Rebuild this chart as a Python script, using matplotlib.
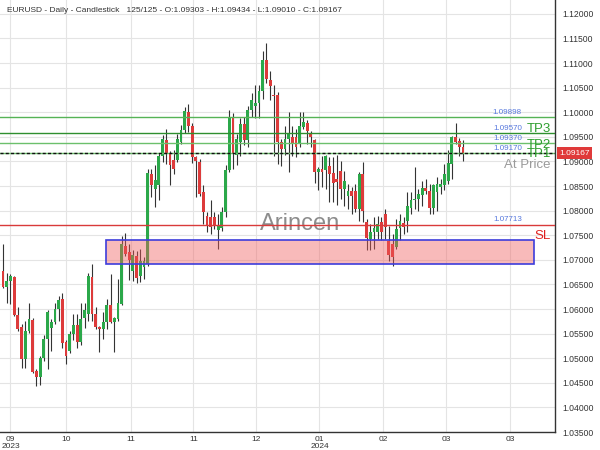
import matplotlib
matplotlib.use('Agg')
import matplotlib.pyplot as plt
from matplotlib.patches import Rectangle
import matplotlib.transforms as mtransforms

plt.rcParams['font.family'] = ['Liberation Sans', 'DejaVu Sans']

# ---------------- data ----------------
opens = [1.0677, 1.0645, 1.0656, 1.0666, 1.0587, 1.0564, 1.0499, 1.0556, 1.0578, 1.0473,
         1.0461, 1.0501, 1.0540, 1.0562, 1.0574, 1.0600, 1.0621, 1.0532, 1.0515, 1.0550,
         1.0568, 1.0532, 1.0582, 1.0590, 1.0666, 1.0590, 1.0564, 1.0560, 1.0574, 1.0609,
         1.0574, 1.0580, 1.0611, 1.0728, 1.0716, 1.0677, 1.0708, 1.0667, 1.0686, 1.0692,
         1.0874, 1.0844, 1.0852, 1.0912, 1.0943, 1.0918, 1.0902, 1.0902, 1.0939, 1.0963,
         1.1001, 1.0971, 1.0908, 1.0898, 1.0837, 1.0789, 1.0787, 1.0787, 1.0760, 1.0765,
         1.0797, 1.0882, 1.0989, 1.0914, 1.0939, 1.0977, 1.0943, 1.1005, 1.1012, 1.1018,
         1.1044, 1.1107, 1.1066, 1.1036, 1.1036, 1.0939, 1.0925, 1.0945, 1.0949, 1.0949,
         1.0935, 1.0969, 1.0979, 1.0957, 1.0943, 1.0878, 1.0884, 1.0882, 1.0890, 1.0876,
         1.0864, 1.0880, 1.0843, 1.0829, 1.0839, 1.0839, 1.0803, 1.0874, 1.0777, 1.0742,
         1.0756, 1.0756, 1.0777, 1.0793, 1.0738, 1.0732, 1.0726, 1.0765, 1.0775, 1.0779,
         1.0805, 1.0821, 1.0823, 1.0831, 1.0845, 1.0839, 1.0805, 1.0837, 1.0848, 1.0852,
         1.0860, 1.0894, 1.0949, 1.0941, 1.09303]
highs = [1.0732, 1.0674, 1.0672, 1.0668, 1.0605, 1.0570, 1.0576, 1.0613, 1.0582, 1.0479,
         1.0505, 1.0548, 1.0597, 1.0579, 1.0613, 1.0627, 1.0633, 1.0536, 1.0556, 1.0590,
         1.0590, 1.0613, 1.0613, 1.0674, 1.0692, 1.0605, 1.0566, 1.0594, 1.0621, 1.0671,
         1.0584, 1.0661, 1.0748, 1.0754, 1.0732, 1.0720, 1.0718, 1.0722, 1.0706, 1.0884,
         1.0884, 1.0892, 1.0918, 1.0953, 1.0965, 1.0922, 1.0924, 1.0955, 1.0975, 1.1010,
         1.1016, 1.0979, 1.0912, 1.0904, 1.0853, 1.0797, 1.0821, 1.0797, 1.0793, 1.0807,
         1.0892, 1.1005, 1.0999, 1.0955, 1.0989, 1.0991, 1.1013, 1.1040, 1.1056, 1.1056,
         1.1125, 1.1141, 1.1084, 1.1056, 1.1042, 1.0945, 1.0971, 1.1000, 1.0971, 1.0965,
         1.1000, 1.1000, 1.0985, 1.0961, 1.0945, 1.0888, 1.0910, 1.0914, 1.0908, 1.0908,
         1.0914, 1.0900, 1.0880, 1.0854, 1.0848, 1.0854, 1.0878, 1.0898, 1.0783, 1.0773,
         1.0787, 1.0789, 1.0787, 1.0803, 1.0769, 1.0752, 1.0783, 1.0793, 1.0787, 1.0837,
         1.0837, 1.0888, 1.0843, 1.0860, 1.0864, 1.0854, 1.0854, 1.0868, 1.0864, 1.0894,
         1.0924, 1.0951, 1.0979, 1.0947, 1.09434]
lows = [1.0643, 1.0613, 1.0611, 1.0585, 1.0556, 1.0481, 1.0481, 1.0552, 1.0469, 1.0443,
        1.0445, 1.0495, 1.0479, 1.0515, 1.0570, 1.0576, 1.0520, 1.0489, 1.0510, 1.0536,
        1.0520, 1.0526, 1.0562, 1.0576, 1.0576, 1.0560, 1.0513, 1.0540, 1.0560, 1.0572,
        1.0513, 1.0576, 1.0609, 1.0708, 1.0659, 1.0657, 1.0653, 1.0655, 1.0661, 1.0688,
        1.0827, 1.0807, 1.0821, 1.0898, 1.0894, 1.0852, 1.0874, 1.0898, 1.0935, 1.0957,
        1.0959, 1.0896, 1.0827, 1.0829, 1.0773, 1.0757, 1.0752, 1.0763, 1.0722, 1.0759,
        1.0787, 1.0878, 1.0884, 1.0892, 1.0912, 1.0933, 1.0930, 1.0991, 1.0989, 1.0989,
        1.1026, 1.1060, 1.1024, 1.0910, 1.0894, 1.0890, 1.0914, 1.0878, 1.0910, 1.0908,
        1.0929, 1.0965, 1.0935, 1.0930, 1.0857, 1.0841, 1.0847, 1.0843, 1.0817, 1.0817,
        1.0811, 1.0823, 1.0809, 1.0803, 1.0793, 1.0797, 1.0779, 1.0777, 1.0720, 1.0720,
        1.0722, 1.0742, 1.0740, 1.0742, 1.0698, 1.0688, 1.0722, 1.0740, 1.0752, 1.0756,
        1.0793, 1.0803, 1.0799, 1.0809, 1.0833, 1.0793, 1.0793, 1.0799, 1.0833, 1.0841,
        1.0854, 1.0864, 1.0935, 1.0910, 1.09010]
closes = [1.0645, 1.0656, 1.0668, 1.0587, 1.0560, 1.0499, 1.0556, 1.0580, 1.0471, 1.0461,
          1.0501, 1.0540, 1.0593, 1.0574, 1.0600, 1.0619, 1.0530, 1.0505, 1.0550, 1.0568,
          1.0532, 1.0580, 1.0598, 1.0668, 1.0590, 1.0564, 1.0560, 1.0574, 1.0609, 1.0574,
          1.0582, 1.0613, 1.0732, 1.0712, 1.0700, 1.0710, 1.0663, 1.0698, 1.0698, 1.0876,
          1.0852, 1.0862, 1.0912, 1.0945, 1.0918, 1.0892, 1.0884, 1.0945, 1.0963, 1.1003,
          1.0971, 1.0908, 1.0900, 1.0833, 1.0797, 1.0771, 1.0767, 1.0769, 1.0771, 1.0797,
          1.0882, 1.0991, 1.0916, 1.0945, 1.0977, 1.0943, 1.1005, 1.1024, 1.1018, 1.1044,
          1.1107, 1.1068, 1.1054, 1.1032, 1.0939, 1.0925, 1.0945, 1.0955, 1.0935, 1.0930,
          1.0971, 1.0981, 1.0961, 1.0949, 1.0878, 1.0884, 1.0878, 1.0910, 1.0874, 1.0856,
          1.0858, 1.0843, 1.0860, 1.0839, 1.0829, 1.0803, 1.0874, 1.0799, 1.0744, 1.0756,
          1.0765, 1.0773, 1.0756, 1.0767, 1.0710, 1.0706, 1.0762, 1.0779, 1.0767, 1.0809,
          1.0821, 1.0823, 1.0833, 1.0845, 1.0839, 1.0805, 1.0852, 1.0854, 1.0854, 1.0874,
          1.0896, 1.0949, 1.0939, 1.0929, 1.09167]

tp_levels = [1.09898, 1.09570, 1.09370, 1.09170]
tp_labels = ["1.09898", "1.09570", "1.09370", "1.09170"]
sl_level = 1.07713
sl_label = "1.07713"
at_price = 1.09167
zone_bars = [27.8, 143.1]        # bar-index extent of the zone
zone_prices = [1.0691, 1.0740]   # bottom / top of the zone
ytick_vals = [1.035 + 0.005 * k for k in range(18)]
xtick_pos = [2.0, 16.9, 34.4, 51.3, 68.3, 85.3, 102.4, 119.5, 136.7]
xtick_labels = ["09\n2023", "10", "11", "11", "12", "01\n2024", "02", "03", "03"]
header = ("EURUSD - Daily - Candlestick   125/125 - O:1.09303 - H:1.09434 - "
          "L:1.09010 - C:1.09167")

# ---------------- figure ----------------
fig = plt.figure(figsize=(6, 4.5), dpi=100)
ax = fig.add_axes([0, 18 / 450, 555 / 600, 432 / 450])
ax.set_xlim(-0.81, 148.8)
ax.set_ylim(1.03536, 1.12281)

GREEN = '#2ba84a'
RED = '#dd3b3b'
WICK = '#333333'
n = len(opens)
for i in range(n):
    o, h, l, c = opens[i], highs[i], lows[i], closes[i]
    col = GREEN if c >= o else RED
    ax.vlines(i, l, h, color=WICK, lw=0.8, zorder=2)
    bh = max(abs(c - o), 0.00005)
    ax.bar(i, bh, bottom=min(o, c), width=0.76, color=col, edgecolor='none',
           zorder=3)

# zone
ax.add_patch(Rectangle((zone_bars[0], zone_prices[0]), zone_bars[1] - zone_bars[0],
                       zone_prices[1] - zone_prices[0],
                       facecolor=(0.94, 0.36, 0.36, 0.42), edgecolor='#3d3ddb',
                       lw=1.2, zorder=4))

# lines
tp_colors = ['#56b356', '#2f8f2f', '#6cc06c', '#6cc06c']
for lv, colr in zip(tp_levels, tp_colors):
    ax.axhline(lv, color=colr, lw=1.0, zorder=5)
ax.axhline(sl_level, color='#d93a3a', lw=1.0, zorder=5)
ax.axhline(at_price, color='#111111', lw=1.0, ls=(0, (2.2, 1.6)), zorder=6)

trans = mtransforms.blended_transform_factory(ax.transAxes, ax.transData)
px = 1.0 / 4940.0  # price per pixel
for lv, lab in zip(tp_levels, tp_labels):
    ax.text(522 / 555, lv + 5 * px, lab, transform=trans, ha='right', va='center',
            fontsize=5.8, color='#5577dd', zorder=7)
ax.text(522 / 555, sl_level + 5 * px, sl_label, transform=trans, ha='right',
        va='center', fontsize=5.8, color='#5577dd', zorder=7)

ax.text(551 / 555, tp_levels[1] + 4.5 * px, "TP3", transform=trans, ha='right',
        va='center', fontsize=9.5, color='#2e9e2e', zorder=7)
ax.text(551 / 555, tp_levels[2] - 1.5 * px, "TP2", transform=trans, ha='right',
        va='center', fontsize=9.5, color='#2e9e2e', zorder=7)
ax.text(551 / 555, tp_levels[3] - 0.5 * px, "TP1", transform=trans, ha='right',
        va='center', fontsize=9.5, color='#2e9e2e', zorder=7)
ax.text(551 / 555, at_price - 12 * px, "At Price", transform=trans, ha='right',
        va='center', fontsize=9.5, color='#9a9a9a', zorder=7)
ax.text(551 / 555, sl_level - 11.5 * px, "SL", transform=trans, ha='right',
        va='center', fontsize=9.5, color='#e02020', zorder=7)

# watermark
ax.text(300 / 555, (432 - 224) / 432, "Arincen", transform=ax.transAxes,
        ha='center', va='center', fontsize=17, color='#8c8c8c', zorder=1)

# header
ax.text(7 / 555, (432 - 11) / 432, header, transform=ax.transAxes, ha='left',
        va='center', fontsize=6, color='#333333', zorder=8)

# axes styling
for s in ['top', 'left']:
    ax.spines[s].set_visible(False)
ax.spines['right'].set_color('#333333')
ax.spines['bottom'].set_color('#333333')
ax.spines['right'].set_linewidth(1.0)
ax.spines['bottom'].set_linewidth(1.0)

ax.yaxis.tick_right()
ax.set_yticks(ytick_vals)
ax.set_yticklabels([f"{v:.5f}" for v in ytick_vals])
ax.tick_params(axis='y', length=0, pad=5, labelsize=6.2, labelcolor='#333333')
ax.set_xticks(xtick_pos)
ax.set_xticklabels(xtick_labels, linespacing=0.9)
ax.tick_params(axis='x', length=0, pad=3, labelsize=6, labelcolor='#333333')
ax.grid(True, color='#e4e4e4', lw=0.8, zorder=0)
ax.set_axisbelow(True)

# current price tag
ax.text(1.008, at_price, "1.09167", transform=trans, ha='left', va='center',
        fontsize=6, color='white', zorder=10, clip_on=False,
        bbox=dict(boxstyle='square,pad=0.3', facecolor='#e03a3a',
                  edgecolor='none'))

fig.savefig('out.png', dpi=100)
